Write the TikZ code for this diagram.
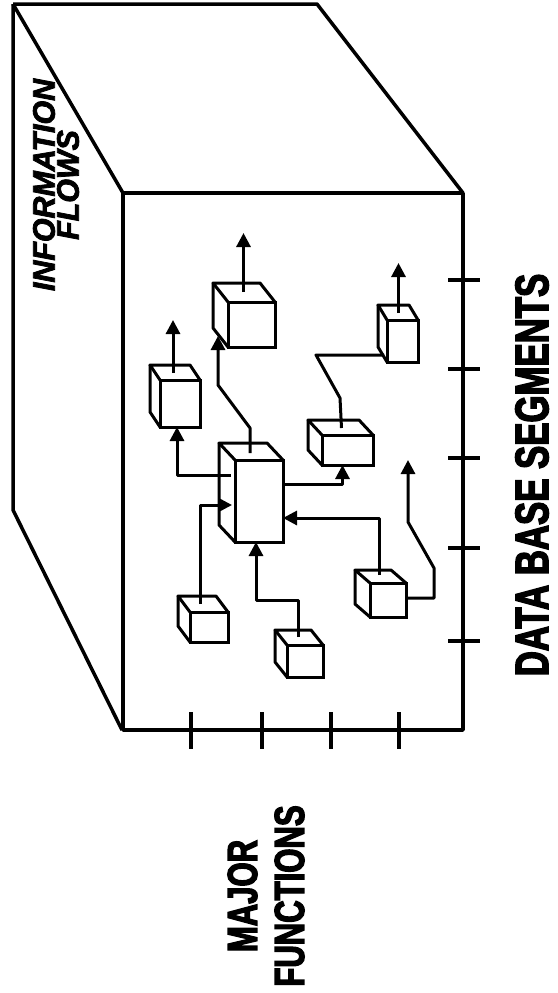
\documentclass[tikz,border=0pt]{standalone}
\usepackage{fontspec}
\usepackage{tikz}
\usetikzlibrary{arrows.meta, calc}
\newfontfamily\labelfont[FakeStretch=0.74, FakeBold=3]{Liberation Sans}
\newfontfamily\titlefont[FakeStretch=0.98, FakeBold=2.5]{Liberation Sans}

% small cube: name, front centre, width, height, depth x, depth y
\newcommand{\boxcube}[6]{%
  \node[cubeface, minimum width=#3pt, minimum height=#4pt] (#1) at #2 {};
  \draw[cubeedge] (#1.north west) -- ++(-#5,-#6) coordinate (#1-btl)
      -- ($(#1.north east)+(-#5,-#6)$) -- (#1.north east);
  \draw[cubeedge] (#1-btl) -- ($(#1.south west)+(-#5,-#6)$) -- (#1.south west);
}

\begin{document}
\begin{tikzpicture}[
    x=1pt, y=-1pt,
    outline/.style={line width=3.5pt, line join=round},
    cubeface/.style={draw, fill=white, line width=3pt, inner sep=0pt, outer sep=0pt},
    cubeedge/.style={line width=3pt, line join=round},
    flow/.style={line width=3pt, line join=round, -{Triangle[length=14pt, width=14pt]}},
    link/.style={line width=3pt, line join=round},
    tick/.style={line width=3.5pt},
    axislabel/.style={rotate=90, align=center,
                      font=\labelfont\bfseries\fontsize{42}{47}\selectfont}
]
\useasboundingbox (0,0) rectangle (557,993);

% outer block
\draw[outline] (13,4) -- (317,4) -- (463,193);
\draw[outline] (13,4) -- (123,193);
\draw[outline] (13,4) -- (13,510) -- (122,730);
\draw[outline] (123,193) rectangle (463,730);

% scale ticks
\foreach \ty in {280,369,458,548,641}
    \draw[tick] (448,\ty) -- (480,\ty);
\foreach \tx in {191,262,331,399}
    \draw[tick] (\tx,712) -- (\tx,749);

% cubes
\boxcube{cubeA}{(180,403.5)}{40}{47}{10}{15}
\boxcube{cubeB}{(251.5,324.5)}{47}{45}{15}{19}
\boxcube{cubeC}{(402.5,341)}{31}{42}{9}{15}
\boxcube{cubeD}{(347.5,450)}{51}{30}{14}{15}
\boxcube{hub}{(259,501)}{48}{82}{16}{17}
\boxcube{cubeF}{(388,600)}{36}{34}{15}{13}
\boxcube{cubeG}{(209,627)}{38}{30}{12}{16}
\boxcube{cubeH}{(305,661)}{36}{32}{12}{15}

% flows
\draw[flow] ($(cubeA.north)+(-7,-7)$) -- ++(0,-53);
\draw[flow] ($(cubeB.north)+(-8,-10)$) -- ++(0,-59);
\draw[flow] ($(cubeC.north)+(-4,-7)$) -- ++(0,-50);
\draw[flow] ($(hub.north)+(-9,-7)$) -- ++(0,-25) -- ++(-32,-43) -- ($(cubeB.south west)+(-10,-11)$);
\draw[flow] ($(hub.west)+(-4,-26)$) -| ($(cubeA.south)+(-3,0)$);
\draw[flow] ($(cubeG.north)+(-9,-8)$) |- ($(hub.west)+(-3,4)$);
\draw[flow] ($(cubeH.north)+(-7,-8)$) -- ++(0,-37) -| ($(hub.south)+(-3,0)$);
\draw[flow] ($(cubeF.north)+(-9,-8)$) |- ($(hub.east)+(0,17)$);
\draw[flow] ($(hub.east)+(0,-17)$) -| ($(cubeD.south)+(-5,0)$);
\draw[link] ($(cubeC.south west)+(-3,-7)$) -- ++(-68,0) -- ++(24,43) -- ($(cubeD.north)+(-6,-7)$);
\draw[flow] ($(cubeF.east)+(0,-2)$) -- ++(28,0) -- ++(0,-30) -- ++(-26,-46) -- ++(0,-62);

% labels
\node[rotate=90, align=center,
      font=\titlefont\bfseries\itshape\fontsize{31}{24}\selectfont] (title) at (56,185)
    {INFORMATION\\FLOWS};
\node[axislabel] (funcs) at (266,896) {MAJOR\\FUNCTIONS};
\node[axislabel, font=\labelfont\bfseries\fontsize{47}{50}\selectfont] (segs) at (532,475)
    {DATA BASE SEGMENTS};
\end{tikzpicture}
\end{document}
